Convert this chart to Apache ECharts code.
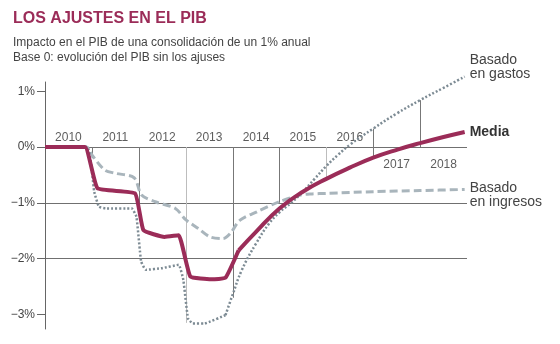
<!DOCTYPE html>
<html>
<head>
<meta charset="utf-8">
<script src="https://cdn.jsdelivr.net/npm/echarts@6/dist/echarts.min.js"></script>
<style>
html,body{margin:0;padding:0;background:#fff;}
#chart{width:560px;height:344px;}
</style>
</head>
<body>
<div id="chart"></div>
<script>
// ---- Data ----
const titleText = 'LOS AJUSTES EN EL PIB';
const subtitleLines = ['Impacto en el PIB de una consolidación de un 1% anual', 'Base 0: evolución del PIB sin los ajuses'];

const yTicks = [-3, -2, -1, 0, 1];
const yearLabels = ['2010', '2011', '2012', '2013', '2014', '2015', '2016', '2017', '2018'];
const yearsBelow = ['2017', '2018'];

// Media (x = year position, y = % impact)
const mediaX = [2010.0, 2010.85, 2011.12, 2011.92, 2012.1, 2012.55, 2012.85, 2013.1, 2013.55, 2013.85, 2014.13, 2014.5, 2015.0, 2015.5, 2016.0, 2016.5, 2017.0, 2017.5, 2018.0, 2018.5, 2018.95];
const mediaY = [0, 0, -0.74, -0.83, -1.49, -1.61, -1.58, -2.32, -2.37, -2.34, -1.85, -1.52, -1.1, -0.8, -0.57, -0.37, -0.19, -0.05, 0.07, 0.18, 0.27];

// Basado en gastos
const gastosX = [2010.0, 2010.9, 2011.05, 2011.15, 2011.3, 2011.85, 2011.95, 2012.05, 2012.15, 2012.5, 2012.85, 2012.95, 2013.05, 2013.15, 2013.4, 2013.85, 2014.0, 2014.2, 2014.5, 2014.78, 2015.0, 2015.25, 2015.5, 2015.75, 2016.0, 2016.25, 2016.5, 2017.0, 2017.5, 2018.0, 2018.5, 2018.95];
const gastosY = [0, 0, -0.8, -1.07, -1.1, -1.1, -1.25, -2.05, -2.2, -2.17, -2.11, -2.38, -3.07, -3.16, -3.16, -3.01, -2.65, -2.2, -1.73, -1.37, -1.17, -1.0, -0.8, -0.57, -0.34, -0.14, 0.04, 0.33, 0.6, 0.84, 1.06, 1.26];

// Basado en ingresos
const ingresosX = [2010.0, 2010.88, 2011.0, 2011.27, 2011.5, 2011.9, 2012.06, 2012.35, 2012.78, 2013.0, 2013.27, 2013.52, 2013.8, 2013.95, 2014.16, 2014.52, 2015.0, 2015.45, 2015.7, 2016.0, 2017.0, 2018.0, 2018.95];
const ingresosY = [0, 0, -0.14, -0.41, -0.47, -0.55, -0.86, -0.98, -1.1, -1.3, -1.46, -1.61, -1.64, -1.55, -1.31, -1.16, -0.98, -0.86, -0.84, -0.83, -0.8, -0.78, -0.76];

// Index where each stepped series turns into its smooth recovery curve
const mediaSplit = 10;
const gastosSplit = 15;

// Year separator lines: position, lower and upper value
const sepX = [2011, 2012, 2013, 2014, 2015, 2016, 2017, 2018];
const sepLow = [-0.2, -1.05, -3.15, -2.7, -1.0, -0.58, -0.2, 0];
const sepHigh = [0, 0, 0, 0, 0, 0, 0.33, 0.84];

const labelGastos = 'Basado\nen gastos';
const labelIngresos = 'Basado\nen ingresos';
const labelMedia = 'Media';

// ---- Chart ----
const FONT = '"Liberation Sans", Arial, Helvetica, sans-serif';
const zip = (xs, ys) => xs.map((x, i) => [x, ys[i]]);
const chart = echarts.init(document.getElementById('chart'), null, {renderer: 'canvas'});

const mediaStyle = {color: '#9b2c58', width: 4, join: 'round'};
const gastosStyle = {color: '#7d8b94', width: 2.5, type: [2, 2]};
const ingresosStyle = {color: '#a9b5bc', width: 3, type: [8, 4]};

function lineSeries(data, z, smooth, lineStyle, endLabel) {
  const s = {type: 'line', z, data, smooth, symbol: 'none', clip: false, lineStyle,
    itemStyle: {color: lineStyle.color}};
  if (endLabel) s.endLabel = Object.assign({show: true, distance: 5, fontFamily: FONT}, endLabel);
  return s;
}

const mediaData = zip(mediaX, mediaY);
const gastosData = zip(gastosX, gastosY);
const ingresosData = zip(ingresosX, ingresosY);

const option = {
  animation: false,
  backgroundColor: '#fff',
  textStyle: {fontFamily: FONT},
  grid: {left: 45, right: 93, top: 82, bottom: 15, containLabel: false},
  xAxis: {
    type: 'value', min: 2010, max: 2019, show: false
  },
  yAxis: {
    type: 'value', min: -3.26, max: 1.165,
    axisLine: {show: true, lineStyle: {color: '#666', width: 1}},
    axisTick: {show: true, length: 8, customValues: yTicks, lineStyle: {color: '#666'}},
    axisLabel: {
      customValues: yTicks, margin: 10, color: '#444', fontSize: 12, fontFamily: FONT,
      formatter: v => (v < 0 ? '\u2212' + (-v) : String(v)) + '%'
    },
    splitLine: {show: true, showMinLine: false, showMaxLine: false, lineStyle: {color: '#707070', width: 1}}
  },
  graphic: [
    {type: 'text', left: 13, top: 11, style: {text: titleText, fill: '#9b2c58', font: 'bold 16px ' + FONT}},
    {type: 'text', left: 13, top: 37, style: {text: subtitleLines[0], fill: '#444', font: '12px ' + FONT}},
    {type: 'text', left: 13, top: 52, style: {text: subtitleLines[1], fill: '#444', font: '12px ' + FONT}}
  ],
  series: [
    {
      type: 'custom', z: 1, silent: true,
      data: sepX.map((x, i) => [x, sepLow[i], sepHigh[i]]),
      renderItem: (params, api) => {
        const p1 = api.coord([api.value(0), api.value(1)]);
        const p2 = api.coord([api.value(0), api.value(2)]);
        const light = (params.dataIndex === 2 || params.dataIndex === 5);
        const x = Math.round(p1[0]) + 0.5;
        return {type: 'line', shape: {x1: x, y1: p1[1], x2: x, y2: p2[1]},
          style: {stroke: light ? '#bdbdbd' : '#777', lineWidth: 1}};
      }
    },
    {
      type: 'scatter', z: 2, silent: true, symbolSize: 0,
      data: yearLabels.map(y => ({
        value: [Number(y) + 0.5, 0], name: y,
        label: yearsBelow.includes(y) ? {position: 'bottom', distance: 12} : {position: 'top', distance: 3}
      })),
      label: {show: true, formatter: p => p.name, color: '#333', fontSize: 12, fontFamily: FONT}
    },
    lineSeries(ingresosData, 3, 0.3, ingresosStyle,
      {formatter: labelIngresos, offset: [0, 6], color: '#444', fontSize: 14, lineHeight: 14}),
    lineSeries(gastosData.slice(0, gastosSplit + 1), 4, 0.12, gastosStyle, null),
    lineSeries(gastosData.slice(gastosSplit), 4, 0.45, gastosStyle,
      {formatter: labelGastos, offset: [0, -10], color: '#444', fontSize: 14, lineHeight: 14}),
    lineSeries(mediaData.slice(0, mediaSplit + 1), 5, 0.12, mediaStyle, null),
    lineSeries(mediaData.slice(mediaSplit), 5, 0.45, mediaStyle,
      {formatter: labelMedia, offset: [0, 0], color: '#333', fontSize: 14, fontWeight: 'bold'})
  ]
};
chart.setOption(option);
</script>
</body>
</html>
